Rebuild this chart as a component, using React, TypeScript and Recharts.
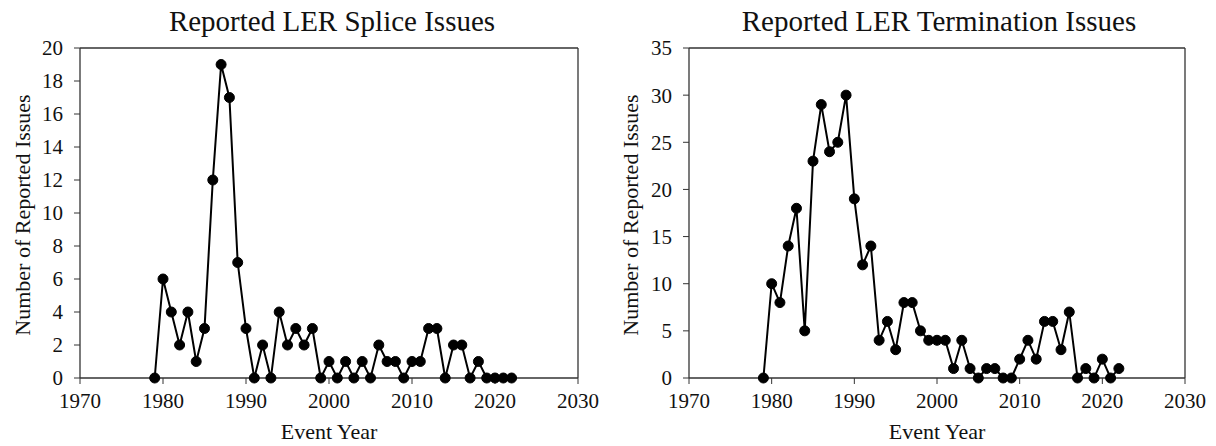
import React from "react";
import { LineChart, Line, XAxis, YAxis, ReferenceLine } from "recharts";

const years: number[] = [
  1979, 1980, 1981, 1982, 1983, 1984, 1985, 1986, 1987, 1988, 1989, 1990,
  1991, 1992, 1993, 1994, 1995, 1996, 1997, 1998, 1999, 2000, 2001, 2002,
  2003, 2004, 2005, 2006, 2007, 2008, 2009, 2010, 2011, 2012, 2013, 2014,
  2015, 2016, 2017, 2018, 2019, 2020, 2021, 2022,
];

const spliceIssues: number[] = [
  0, 6, 4, 2, 4, 1, 3, 12, 19, 17, 7, 3,
  0, 2, 0, 4, 2, 3, 2, 3, 0, 1, 0, 1,
  0, 1, 0, 2, 1, 1, 0, 1, 1, 3, 3, 0,
  2, 2, 0, 1, 0, 0, 0, 0,
];

const terminationIssues: number[] = [
  0, 10, 8, 14, 18, 5, 23, 29, 24, 25, 30, 19,
  12, 14, 4, 6, 3, 8, 8, 5, 4, 4, 4, 1,
  4, 1, 0, 1, 1, 0, 0, 2, 4, 2, 6, 6,
  3, 7, 0, 1, 0, 2, 0, 1,
];

const xTicks: number[] = [1970, 1980, 1990, 2000, 2010, 2020, 2030];
const spliceTicks: number[] = [0, 2, 4, 6, 8, 10, 12, 14, 16, 18, 20];
const terminationTicks: number[] = [0, 5, 10, 15, 20, 25, 30, 35];

const titles: string[] = ["Reported LER Splice Issues", "Reported LER Termination Issues"];
const xLabel = "Event Year";
const yLabel = "Number of Reported Issues";

const FONT = "Liberation Serif, Times New Roman, serif";
const AXIS = "#333";

const spliceData = years.map((y, i) => ({ year: y, value: spliceIssues[i] }));
const terminationData = years.map((y, i) => ({ year: y, value: terminationIssues[i] }));

type PanelProps = {
  data: { year: number; value: number }[];
  yTicks: number[];
  yMax: number;
  left: number;
  marginLeft: number;
  marginRight: number;
  title: string;
  yLabelX: number;
  titleShift: number;
};

function Panel({ data, yTicks, yMax, left, marginLeft, marginRight, title, yLabelX, titleShift }: PanelProps) {
  const W = 608;
  const H = 446;
  const Y_W = 60;
  const X_H = 30;
  const plotCenter = marginLeft + (W - marginLeft - marginRight) / 2;
  const tickStyle = { fill: "#111", fontSize: 21, fontFamily: FONT, style: { fontFamily: FONT } };
  return (
    <div style={{ position: "absolute", left, top: 0, width: W, height: H, fontFamily: FONT }}>
      <LineChart
        width={W}
        height={H}
        data={data}
        style={{ fontFamily: FONT }}
        margin={{ top: 48, right: marginRight, bottom: 68 - X_H, left: marginLeft - Y_W }}
      >
        <XAxis
          dataKey="year"
          type="number"
          domain={[1970, 2030]}
          ticks={xTicks}
          interval={0}
          height={X_H}
          tickSize={6}
          tickMargin={9}
          tick={tickStyle}
          axisLine={{ stroke: AXIS, strokeWidth: 1.3 }}
          tickLine={{ stroke: AXIS, strokeWidth: 1 }}
        />
        <YAxis
          type="number"
          domain={[0, yMax]}
          ticks={yTicks}
          interval={0}
          width={Y_W}
          tickSize={6}
          tickMargin={11}
          tick={tickStyle}
          axisLine={{ stroke: AXIS, strokeWidth: 1.3 }}
          tickLine={{ stroke: AXIS, strokeWidth: 1 }}
        />
        <ReferenceLine y={yMax} stroke={AXIS} strokeWidth={1.3} />
        <ReferenceLine x={2030} stroke={AXIS} strokeWidth={1.3} />
        <Line
          type="linear"
          dataKey="value"
          stroke="#000"
          strokeWidth={2}
          dot={{ r: 5, fill: "#000", stroke: "#000", strokeWidth: 1 }}
          activeDot={false}
          isAnimationActive={false}
        />
      </LineChart>
      <div
        style={{
          position: "absolute",
          left: plotCenter - 250 + titleShift,
          width: 500,
          top: 7,
          textAlign: "center",
          fontFamily: FONT,
          fontSize: 29,
          lineHeight: "29px",
          color: "#111",
          whiteSpace: "nowrap",
        }}
      >
        {title}
      </div>
      <div
        style={{
          position: "absolute",
          left: plotCenter - 150,
          width: 300,
          top: 421,
          textAlign: "center",
          fontFamily: FONT,
          fontSize: 22,
          lineHeight: "22px",
          color: "#111",
          whiteSpace: "nowrap",
        }}
      >
        {xLabel}
      </div>
      <div
        style={{
          position: "absolute",
          left: yLabelX - 150,
          width: 300,
          top: 215 - 11,
          textAlign: "center",
          fontFamily: FONT,
          fontSize: 22,
          lineHeight: "22px",
          color: "#111",
          whiteSpace: "nowrap",
          transform: "rotate(-90deg)",
          transformOrigin: "50% 50%",
        }}
      >
        {yLabel}
      </div>
    </div>
  );
}

export default function App() {
  return (
    <div style={{ position: "absolute", left: 0, top: 0, width: 1216, height: 446, background: "#fff", fontFamily: FONT }}>
      <Panel
        data={spliceData}
        yTicks={spliceTicks}
        yMax={20}
        left={0}
        marginLeft={80}
        marginRight={30}
        title={titles[0]}
        yLabelX={22.5}
        titleShift={3}
      />
      <Panel
        data={terminationData}
        yTicks={terminationTicks}
        yMax={35}
        left={608}
        marginLeft={81}
        marginRight={31}
        title={titles[1]}
        yLabelX={23}
        titleShift={2}
      />
    </div>
  );
}
